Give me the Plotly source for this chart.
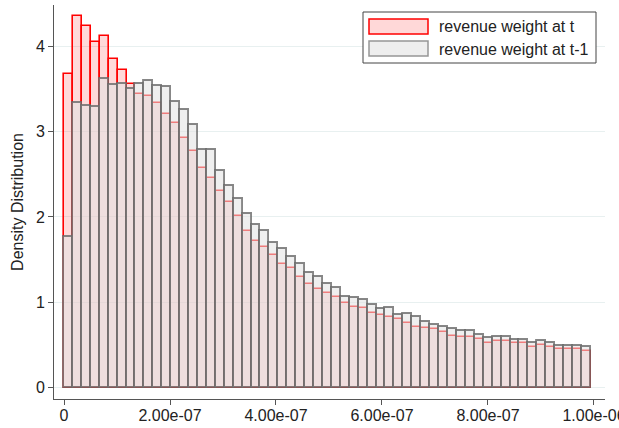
import plotly.graph_objects as go

# ---- data ----
bin_start = 0.0
bin_width = 1.685e-08
n_bins = 59

density_t = [3.67, 4.35, 4.23, 4.05, 4.12, 3.85, 3.72, 3.56, 3.44, 3.41,
             3.33, 3.21, 3.10, 2.92, 2.77, 2.57, 2.46, 2.30, 2.17, 2.01,
             1.83, 1.72, 1.65, 1.55, 1.45, 1.40, 1.30, 1.22, 1.16, 1.11,
             1.06, 0.99, 0.95, 0.93, 0.88, 0.85, 0.83, 0.81, 0.76, 0.71,
             0.70, 0.69, 0.65, 0.61, 0.60, 0.59, 0.57, 0.53, 0.55, 0.55,
             0.52, 0.52, 0.48, 0.50, 0.48, 0.46, 0.46, 0.46, 0.43]

density_t1 = [1.77, 3.33, 3.30, 3.29, 3.61, 3.54, 3.55, 3.50, 3.55, 3.59,
              3.53, 3.52, 3.35, 3.25, 3.08, 2.78, 2.78, 2.54, 2.36, 2.21,
              2.03, 1.91, 1.83, 1.69, 1.63, 1.53, 1.45, 1.34, 1.30, 1.21,
              1.17, 1.06, 1.05, 1.03, 0.97, 0.92, 0.94, 0.85, 0.86, 0.83,
              0.77, 0.74, 0.71, 0.69, 0.66, 0.67, 0.62, 0.58, 0.60, 0.59,
              0.56, 0.56, 0.53, 0.55, 0.53, 0.49, 0.49, 0.49, 0.48]

series_names = ["revenue weight at t", "revenue weight at t-1"]
x_tick_vals = [0, 2e-07, 4e-07, 6e-07, 8e-07, 1e-06]
x_tick_text = ["0", "2.00e-07", "4.00e-07", "6.00e-07", "8.00e-07", "1.00e-06"]
y_tick_vals = [0, 1, 2, 3, 4]
y_title = "Density Distribution"

centers = [bin_start + (i + 0.5) * bin_width for i in range(n_bins)]

FONT = "Liberation Sans, Arial, sans-serif"
red_fill = "rgba(255,0,0,0.15)"
red_line = "rgb(255,0,0)"
grey_fill = "rgba(225,225,225,0.55)"
grey_line = "rgba(105,105,105,0.8)"

W, H = 619, 428
fig = go.Figure()
fig.add_trace(go.Bar(x=centers, y=density_t, width=bin_width,
                     name=series_names[0],
                     marker=dict(color=red_fill, line=dict(color=red_line, width=1.6)),
                     showlegend=False))
fig.add_trace(go.Bar(x=centers, y=density_t1, width=bin_width,
                     name=series_names[1],
                     marker=dict(color=grey_fill, line=dict(color=grey_line, width=1.9)),
                     showlegend=False))

fig.update_layout(
    width=W, height=H,
    margin=dict(l=54, r=14, t=5, b=29, autoexpand=False),
    paper_bgcolor="white", plot_bgcolor="white",
    barmode="overlay", bargap=0,
    font=dict(family=FONT, size=16, color="#222222"),
    xaxis=dict(range=[-1.887e-08, 1.0208e-06], tickvals=x_tick_vals, ticktext=x_tick_text,
               showgrid=False, zeroline=False, showline=True, linecolor="#555555", linewidth=1,
               ticks="outside", ticklen=5, tickcolor="#555555",
               ticklabeloverflow="allow", ticklabelstandoff=-3,
               tickfont=dict(family=FONT, size=16, color="#222222"), automargin=False),
    yaxis=dict(range=[-0.13, 4.48], tickvals=y_tick_vals,
               showgrid=True, gridcolor="#E8F0F0", gridwidth=1,
               zeroline=True, zerolinecolor="#E8F0F0", zerolinewidth=1,
               showline=True, linecolor="#555555", linewidth=1,
               ticks="outside", ticklen=5, tickcolor="#555555",
               tickfont=dict(family=FONT, size=16, color="#222222"),
               title=dict(text=y_title, font=dict(family=FONT, size=16, color="#222222"), standoff=8),
               automargin=False),
)

# legend drawn as a Stata-style box (pixel positions mapped to paper coords)
PL, PW, PB, PH = 54, 551, 399, 394
def fx(x):
    return (x - PL) / PW
def fy(y):
    return (PB - y) / PH

fig.add_shape(type="rect", xref="paper", yref="paper", layer="above",
              x0=fx(363), x1=fx(596), y0=fy(63), y1=fy(12),
              line=dict(color="#444444", width=1), fillcolor="white")
sw = [(19, 34, "rgb(255,216,216)", red_line), (41, 56, "rgb(238,238,238)", "rgb(150,150,150)")]
ty = [27, 49]
for i, (a, b, fc, lc) in enumerate(sw):
    fig.add_shape(type="rect", xref="paper", yref="paper", layer="above",
                  x0=fx(369), x1=fx(428), y0=fy(b), y1=fy(a),
                  line=dict(color=lc, width=1.5), fillcolor=fc)
    fig.add_annotation(xref="paper", yref="paper", x=fx(437), y=fy(ty[i]),
                       text=series_names[i], showarrow=False, xanchor="left", yanchor="middle",
                       font=dict(family=FONT, size=16, color="#222222"))

fig.write_html("out.html", config={"displayModeBar": False},
               post_script="document.body.style.margin='0';document.body.style.overflow='hidden';")
